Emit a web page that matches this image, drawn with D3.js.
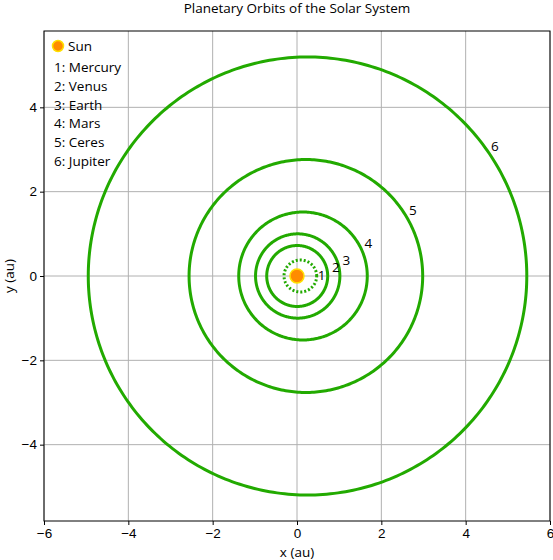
<!DOCTYPE html>
<html>
<head>
<meta charset="utf-8">
<script src="https://cdn.jsdelivr.net/npm/d3@7"></script>
<style>
  html, body { margin: 0; padding: 0; background: #fff; }
  svg { display: block; font-family: "Open Sans", "DejaVu Sans", sans-serif; }
</style>
</head>
<body>
<svg id="chart" width="553" height="560"></svg>
<script>
// ---- data ----
const planets = ["Mercury", "Venus", "Earth", "Mars", "Ceres", "Jupiter"];
const semiMajor = [0.387, 0.723, 1.000, 1.524, 2.77, 5.20];       // au
const eccentricity = [0.2056, 0.0068, 0.0167, 0.0934, 0.076, 0.048];
const labelAngleDeg = [2, 12.5, 17.5, 24.8, 29.7, 33.4];           // where the number label sits
const xTicks = [-6, -4, -2, 0, 2, 4, 6];
const yTicks = [-4, -2, 0, 2, 4];
const title = "Planetary Orbits of the Solar System";
const xLabel = "x (au)";
const yLabel = "y (au)";

(function () {
// ---- layout ----
const mLeft = 44, mRight = 550, mTop = 31, mBottom = 521;
const green = "#22aa00";
const fontSize = 13.5;

const svg = d3.select("#chart");
const x = d3.scaleLinear().domain([-6, 6]).range([mLeft, mRight]);
const pxPerUnit = (mRight - mLeft) / 12;
const yHalf = (mBottom - mTop) / 2 / pxPerUnit;
const y = d3.scaleLinear().domain([-yHalf, yHalf]).range([mBottom, mTop]);

// grid
const g = svg.append("g");
g.selectAll("line.gx").data(xTicks).join("line")
  .attr("x1", d => x(d)).attr("x2", d => x(d)).attr("y1", mTop).attr("y2", mBottom)
  .attr("stroke", "#b0b0b0").attr("stroke-width", 1);
g.selectAll("line.gy").data(yTicks).join("line")
  .attr("y1", d => y(d)).attr("y2", d => y(d)).attr("x1", mLeft).attr("x2", mRight)
  .attr("stroke", "#b0b0b0").attr("stroke-width", 1);

// orbits
const orbit = (a, e) => {
  const b = a * Math.sqrt(1 - e * e), c = a * e;
  return d3.range(0, 361, 1).map(t => {
    const r = t * Math.PI / 180;
    return [c + a * Math.cos(r), b * Math.sin(r)];
  });
};
const line = d3.line().x(d => x(d[0])).y(d => y(d[1]));
planets.forEach((p, i) => {
  svg.append("path")
    .attr("d", line(orbit(semiMajor[i], eccentricity[i])))
    .attr("fill", "none")
    .attr("stroke", green)
    .attr("stroke-width", 3)
    .attr("stroke-dasharray", p === "Mercury" ? "2,2" : null);
});

// number labels
planets.forEach((p, i) => {
  const a = semiMajor[i], e = eccentricity[i];
  const th = labelAngleDeg[i] * Math.PI / 180;
  const pr = a * (1 - e * e) / (1 - e * Math.cos(th));
  const off = i === 0 ? 5 : 9;
  const px = x(pr * Math.cos(th)) + off * Math.cos(th);
  const py = y(pr * Math.sin(th)) - off * Math.sin(th);
  svg.append("text")
    .attr("x", px).attr("y", py)
    .attr("text-anchor", "middle").attr("dominant-baseline", "central")
    .attr("font-size", fontSize).attr("fill", "#000")
    .text(i + 1);
});

// sun
svg.append("circle").attr("cx", x(0)).attr("cy", y(0)).attr("r", 7)
  .attr("fill", "#ff8c00").attr("stroke", "#ffe000").attr("stroke-width", 1.5);

// frame
svg.append("rect").attr("x", mLeft).attr("y", mTop)
  .attr("width", mRight - mLeft).attr("height", mBottom - mTop)
  .attr("fill", "none").attr("stroke", "#000").attr("stroke-width", 1);

// axes
const fmt = d => d < 0 ? "\u2212" + Math.abs(d) : d;
const xAxis = d3.axisBottom(x).tickValues(xTicks).tickSize(4).tickPadding(3).tickFormat(fmt);
const yAxis = d3.axisLeft(y).tickValues(yTicks).tickSize(4).tickPadding(3).tickFormat(fmt);
const xa = svg.append("g").attr("transform", `translate(0,${mBottom})`).call(xAxis);
const ya = svg.append("g").attr("transform", `translate(${mLeft},0)`).call(yAxis);
[xa, ya].forEach(a => {
  a.select(".domain").remove();
  a.selectAll("text").attr("font-size", fontSize).attr("font-family", null).attr("fill", "#000");
  a.selectAll("line").attr("stroke", "#000");
});

// titles
svg.append("text").attr("x", (mLeft + mRight) / 2).attr("y", 13)
  .attr("text-anchor", "middle").attr("font-size", fontSize).text(title);
svg.append("text").attr("x", (mLeft + mRight) / 2).attr("y", 557)
  .attr("text-anchor", "middle").attr("font-size", fontSize).text(xLabel);
svg.append("text").attr("transform", `translate(14,${(mTop + mBottom) / 2}) rotate(-90)`)
  .attr("text-anchor", "middle").attr("font-size", fontSize).text(yLabel);

// legend
const lg = svg.append("g");
lg.append("circle").attr("cx", 58).attr("cy", 46).attr("r", 5.5)
  .attr("fill", "#ff8c00").attr("stroke", "#ffe000").attr("stroke-width", 1.5);
lg.append("text").attr("x", 68).attr("y", 46).attr("dominant-baseline", "central")
  .attr("font-size", fontSize).text("Sun");
planets.forEach((p, i) => {
  lg.append("text").attr("x", 54).attr("y", 67 + i * 18.8)
    .attr("dominant-baseline", "central").attr("font-size", fontSize)
    .text(`${i + 1}: ${p}`);
});
})();
</script>
</body>
</html>
